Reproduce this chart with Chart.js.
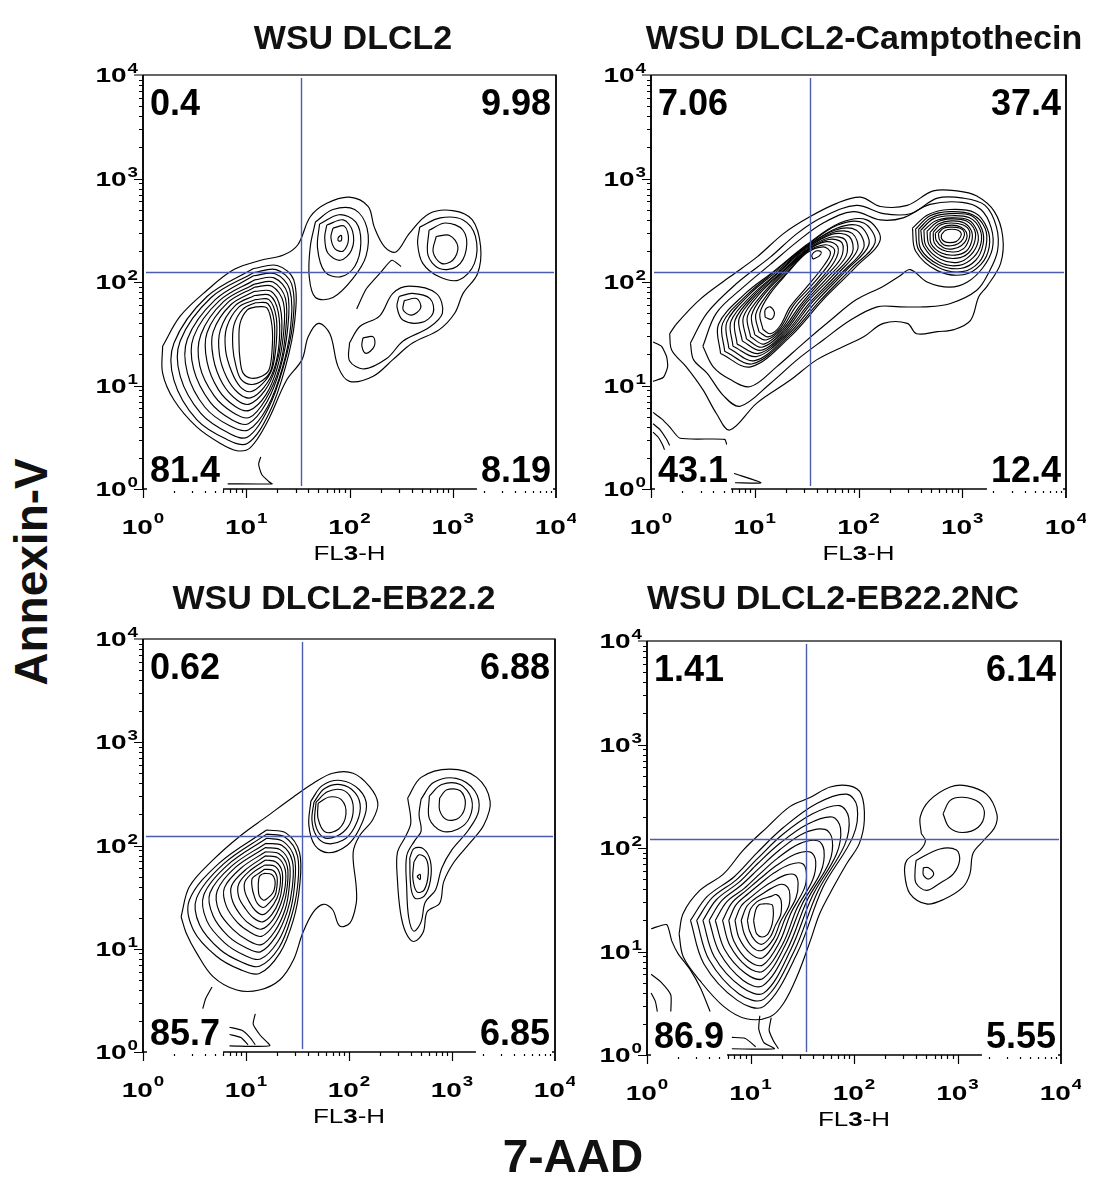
<!DOCTYPE html>
<html><head><meta charset="utf-8">
<script src="https://cdn.jsdelivr.net/npm/chart.js@4.4.1/dist/chart.umd.min.js"></script>
<style>
html,body{margin:0;padding:0;background:#fff}
body{width:1094px;height:1184px;position:relative;overflow:hidden;font-family:"Liberation Sans",Arial,sans-serif}
canvas{position:absolute}
.t{position:absolute;font-weight:bold;font-size:34px;line-height:34px;white-space:nowrap;transform:translateX(-50%);color:#111}
#ylab{position:absolute;left:31px;top:572px;font-weight:bold;font-size:46px;line-height:46px;white-space:nowrap;transform:translate(-50%,-50%) rotate(-90deg);color:#111}
#xlab{position:absolute;left:573px;top:1133px;font-weight:bold;font-size:46px;line-height:46px;white-space:nowrap;transform:translateX(-50%);color:#111}
</style></head><body>
<canvas id="c0"></canvas><canvas id="c1"></canvas><canvas id="c2"></canvas><canvas id="c3"></canvas>
<div class="t" id="t0"></div><div class="t" id="t1"></div><div class="t" id="t2"></div><div class="t" id="t3"></div>
<div id="ylab">Annexin-V</div>
<div id="xlab">7-AAD</div>
<script>
// ---------- text / labels ----------
const titles = ['WSU DLCL2', 'WSU DLCL2-Camptothecin', 'WSU DLCL2-EB22.2', 'WSU DLCL2-EB22.2NC'];
const quadUL = ['0.4', '7.06', '0.62', '1.41'];
const quadUR = ['9.98', '37.4', '6.88', '6.14'];
const quadLL = ['81.4', '43.1', '85.7', '86.9'];
const quadLR = ['8.19', '12.4', '6.85', '5.55'];
const decades = [0, 1, 2, 3, 4];          // tick labels 10^n
const quadX = [34, 34, 35, 34];          // vertical gate (FL3-H)
const quadY = [125, 125, 124, 123];      // horizontal gate (Annexin-V)

// ---------- contour data: [log10(FL3-H), log10(Annexin-V), ...] ----------
// Panel 1: WSU DLCL2
const p1Outer = [0.19,1.38, 0.36,1.67, 0.62,1.92, 0.88,2.12, 1.14,2.21, 1.36,2.26, 1.50,2.36, 1.62,2.63, 1.78,2.76, 2.00,2.82, 2.18,2.73, 2.24,2.53, 2.34,2.34, 2.45,2.29, 2.58,2.47, 2.77,2.66, 3.00,2.69, 3.19,2.60, 3.27,2.34, 3.24,2.08, 3.10,1.89, 3.02,1.70, 2.87,1.54, 2.61,1.41, 2.42,1.25, 2.23,1.09, 2.00,1.04, 1.89,1.18, 1.81,1.50, 1.70,1.60, 1.60,1.47, 1.54,1.25, 1.39,1.05, 1.20,0.64, 1.04,0.40, 0.91,0.37, 0.75,0.44, 0.52,0.60, 0.30,0.86, 0.19,1.12];
const p1Main = [
 [1.07,2.13, 1.30,2.16, 1.46,2.02, 1.47,1.63, 1.38,1.18, 1.22,0.73, 1.01,0.44, 0.81,0.48, 0.52,0.67, 0.30,1.05, 0.30,1.41, 0.62,1.86],
 [1.07,2.09, 1.29,2.12, 1.44,1.98, 1.45,1.60, 1.36,1.18, 1.21,0.77, 1.01,0.50, 0.83,0.54, 0.56,0.73, 0.36,1.09, 0.36,1.43, 0.66,1.85],
 [1.07,2.06, 1.28,2.08, 1.42,1.93, 1.43,1.57, 1.35,1.17, 1.21,0.80, 1.02,0.57, 0.84,0.61, 0.60,0.79, 0.43,1.12, 0.43,1.45, 0.70,1.83],
 [1.08,2.02, 1.27,2.04, 1.40,1.89, 1.40,1.54, 1.33,1.17, 1.20,0.84, 1.02,0.63, 0.86,0.67, 0.65,0.84, 0.49,1.16, 0.49,1.47, 0.74,1.82],
 [1.08,1.98, 1.26,2.00, 1.38,1.84, 1.38,1.51, 1.32,1.17, 1.19,0.87, 1.03,0.69, 0.87,0.74, 0.69,0.90, 0.55,1.19, 0.56,1.49, 0.78,1.81],
 [1.08,1.95, 1.25,1.96, 1.36,1.80, 1.36,1.49, 1.30,1.17, 1.19,0.91, 1.03,0.76, 0.89,0.80, 0.73,0.96, 0.62,1.23, 0.62,1.51, 0.82,1.80],
 [1.08,1.91, 1.24,1.91, 1.33,1.75, 1.34,1.46, 1.28,1.16, 1.18,0.95, 1.03,0.82, 0.91,0.86, 0.77,1.02, 0.68,1.27, 0.68,1.52, 0.85,1.78],
 [1.08,1.87, 1.23,1.87, 1.31,1.71, 1.32,1.43, 1.27,1.16, 1.17,0.98, 1.04,0.88, 0.92,0.93, 0.81,1.08, 0.74,1.30, 0.75,1.54, 0.89,1.77],
 [1.09,1.83, 1.22,1.83, 1.29,1.66, 1.29,1.40, 1.25,1.16, 1.16,1.02, 1.04,0.94, 0.94,0.99, 0.86,1.13, 0.80,1.34, 0.81,1.56, 0.93,1.76],
 [1.09,1.80, 1.21,1.79, 1.27,1.62, 1.27,1.37, 1.24,1.15, 1.16,1.05, 1.05,1.01, 0.95,1.06, 0.90,1.19, 0.87,1.37, 0.88,1.58, 0.97,1.74],
 [1.09,1.76, 1.20,1.75, 1.25,1.57, 1.25,1.34, 1.22,1.15, 1.15,1.09, 1.05,1.07, 0.97,1.12, 0.94,1.25, 0.93,1.41, 0.94,1.60, 1.01,1.73]
];
const p1Upper = [
 [1.67,2.58, 1.84,2.70, 2.05,2.70, 2.17,2.52, 2.16,2.25, 2.03,2.03, 1.84,1.85, 1.67,1.85, 1.61,2.05, 1.62,2.34],
 [1.71,2.56, 1.90,2.65, 2.06,2.58, 2.11,2.38, 2.05,2.15, 1.91,2.05, 1.76,2.10, 1.69,2.33],
 [1.78,2.55, 1.94,2.60, 2.03,2.49, 2.02,2.31, 1.91,2.21, 1.79,2.28, 1.76,2.43],
 [1.84,2.52, 1.95,2.54, 1.99,2.41, 1.94,2.30, 1.86,2.32, 1.82,2.43],
 [1.89,2.43, 1.92,2.45, 1.92,2.40, 1.89,2.40]
];
const p1Right = [
 [2.68,2.53, 2.88,2.62, 3.10,2.60, 3.22,2.44, 3.21,2.18, 3.06,2.02, 2.87,2.05, 2.71,2.18, 2.66,2.37],
 [2.77,2.50, 2.93,2.57, 3.10,2.50, 3.13,2.31, 3.04,2.15, 2.87,2.13, 2.76,2.26],
 [2.84,2.44, 2.97,2.45, 3.05,2.34, 3.00,2.21, 2.89,2.18, 2.81,2.29]
];
const p1Mid = [
 [2.00,1.41, 2.10,1.57, 2.29,1.67, 2.42,1.89, 2.58,1.96, 2.84,1.89, 2.90,1.70, 2.77,1.56, 2.52,1.43, 2.36,1.26, 2.14,1.16, 2.00,1.24],
 [2.48,1.86, 2.61,1.89, 2.78,1.84, 2.81,1.70, 2.70,1.61, 2.52,1.63, 2.46,1.76],
 [2.53,1.82, 2.65,1.84, 2.69,1.75, 2.60,1.68, 2.52,1.73],
 [2.13,1.46, 2.23,1.47, 2.24,1.38, 2.16,1.31, 2.12,1.38]
];
const p1Open = [
 [2.07,1.74, 2.16,1.93, 2.30,2.09, 2.41,2.21, 2.50,2.15],
 [1.14,0.31, 1.12,0.24, 1.15,0.14, 1.22,0.07, 1.25,0.05, 0.82,0.05]
];

// Panel 2: WSU DLCL2-Camptothecin
const p2Outer = [0.18,1.50, 0.25,1.60, 0.47,1.83, 0.76,2.05, 1.02,2.24, 1.28,2.47, 1.53,2.63, 1.79,2.76, 2.02,2.82, 2.21,2.73, 2.47,2.74, 2.72,2.88, 2.95,2.88, 3.14,2.83, 3.31,2.68, 3.39,2.44, 3.37,2.18, 3.24,1.96, 3.16,1.86, 3.08,1.63, 2.92,1.54, 2.76,1.52, 2.56,1.50, 2.47,1.60, 2.24,1.60, 2.05,1.47, 1.86,1.38, 1.60,1.25, 1.34,1.05, 1.02,0.83, 0.76,0.57, 0.63,0.73, 0.50,0.96, 0.34,1.18, 0.20,1.34];
const p2Band = [
 [0.38,1.41, 0.54,1.70, 0.83,1.99, 1.15,2.24, 1.41,2.47, 1.66,2.63, 1.98,2.74, 2.24,2.66, 2.50,2.66, 2.76,2.81, 3.01,2.81, 3.22,2.74, 3.33,2.53, 3.34,2.30, 3.26,2.10, 3.14,1.92, 2.88,1.79, 2.63,1.76, 2.40,1.76, 2.18,1.76, 1.92,1.63, 1.66,1.44, 1.41,1.25, 1.15,1.02, 0.86,0.80, 0.70,0.90, 0.54,1.12, 0.41,1.25],
 [0.50,1.38, 0.63,1.70, 0.89,1.95, 1.15,2.17, 1.41,2.39, 1.66,2.57, 1.95,2.68, 2.21,2.60, 2.43,2.62, 2.69,2.75, 3.00,2.77, 3.18,2.70, 3.28,2.52, 3.29,2.32, 3.20,2.14, 3.05,2.00, 2.88,1.95, 2.66,2.00, 2.50,2.12, 2.40,2.06, 2.24,1.96, 1.98,1.83, 1.73,1.63, 1.47,1.41, 1.21,1.18, 0.96,0.99, 0.76,1.06, 0.60,1.18]
];
const p2Left = [
 [0.67,1.31, 0.65,1.59, 0.90,1.88, 1.18,2.10, 1.50,2.36, 1.82,2.57, 2.08,2.60, 2.21,2.41, 1.98,2.15, 1.66,1.83, 1.34,1.47, 0.96,1.18],
 [0.71,1.33, 0.69,1.60, 0.93,1.88, 1.19,2.10, 1.50,2.35, 1.80,2.55, 2.05,2.57, 2.16,2.38, 1.93,2.13, 1.63,1.82, 1.33,1.48, 0.98,1.21],
 [0.75,1.36, 0.73,1.61, 0.95,1.88, 1.21,2.10, 1.50,2.34, 1.79,2.52, 2.01,2.54, 2.10,2.36, 1.88,2.11, 1.60,1.82, 1.32,1.49, 1.00,1.24],
 [0.79,1.38, 0.77,1.62, 0.98,1.88, 1.22,2.09, 1.50,2.34, 1.77,2.50, 1.98,2.50, 2.05,2.33, 1.84,2.09, 1.56,1.81, 1.31,1.50, 1.02,1.28],
 [0.83,1.40, 0.81,1.63, 1.00,1.88, 1.23,2.09, 1.50,2.33, 1.76,2.48, 1.94,2.47, 1.99,2.31, 1.79,2.07, 1.53,1.80, 1.30,1.51, 1.04,1.31],
 [0.88,1.43, 0.85,1.65, 1.03,1.89, 1.25,2.09, 1.50,2.32, 1.74,2.46, 1.91,2.44, 1.94,2.28, 1.74,2.05, 1.50,1.80, 1.29,1.52, 1.06,1.34],
 [0.92,1.45, 0.89,1.66, 1.05,1.89, 1.26,2.09, 1.50,2.31, 1.72,2.43, 1.87,2.41, 1.88,2.25, 1.69,2.03, 1.47,1.79, 1.28,1.53, 1.07,1.37],
 [0.96,1.47, 0.93,1.67, 1.08,1.89, 1.27,2.09, 1.50,2.30, 1.71,2.41, 1.84,2.38, 1.83,2.23, 1.64,2.01, 1.44,1.78, 1.27,1.54, 1.09,1.40],
 [1.00,1.49, 0.97,1.68, 1.10,1.89, 1.28,2.08, 1.50,2.30, 1.69,2.39, 1.80,2.34, 1.77,2.20, 1.60,1.99, 1.40,1.77, 1.26,1.55, 1.11,1.44],
 [1.04,1.52, 1.01,1.69, 1.13,1.89, 1.30,2.08, 1.50,2.29, 1.68,2.36, 1.77,2.31, 1.72,2.18, 1.55,1.97, 1.37,1.77, 1.25,1.56, 1.13,1.47],
 [1.08,1.54, 1.05,1.70, 1.15,1.89, 1.31,2.08, 1.50,2.28, 1.66,2.34, 1.73,2.28, 1.66,2.15, 1.50,1.95, 1.34,1.76, 1.24,1.57, 1.15,1.50]
];
const p2Peaks = [
 [1.10,1.66, 1.16,1.64, 1.19,1.70, 1.15,1.76, 1.10,1.73],
 [1.56,2.22, 1.62,2.25, 1.64,2.29, 1.59,2.30, 1.55,2.26]
];
const p2Right = [
 [2.52,2.52, 2.67,2.65, 2.88,2.70, 3.12,2.67, 3.24,2.52, 3.26,2.34, 3.18,2.17, 3.01,2.07, 2.76,2.11, 2.55,2.30],
 [2.55,2.51, 2.69,2.64, 2.88,2.68, 3.10,2.65, 3.22,2.52, 3.23,2.35, 3.16,2.19, 3.00,2.10, 2.77,2.14, 2.58,2.31],
 [2.58,2.51, 2.70,2.62, 2.88,2.66, 3.09,2.64, 3.19,2.51, 3.20,2.36, 3.13,2.21, 2.98,2.13, 2.77,2.17, 2.60,2.32],
 [2.60,2.50, 2.72,2.61, 2.89,2.64, 3.07,2.62, 3.17,2.51, 3.18,2.37, 3.11,2.24, 2.97,2.16, 2.78,2.19, 2.63,2.34],
 [2.63,2.50, 2.74,2.59, 2.89,2.62, 3.06,2.60, 3.14,2.50, 3.15,2.38, 3.08,2.26, 2.96,2.19, 2.79,2.22, 2.65,2.35],
 [2.66,2.49, 2.76,2.58, 2.89,2.61, 3.04,2.59, 3.12,2.50, 3.12,2.39, 3.06,2.28, 2.95,2.23, 2.80,2.25, 2.68,2.36],
 [2.69,2.48, 2.77,2.56, 2.89,2.59, 3.02,2.57, 3.09,2.49, 3.09,2.39, 3.04,2.30, 2.93,2.26, 2.80,2.28, 2.70,2.37],
 [2.72,2.48, 2.79,2.55, 2.89,2.57, 3.01,2.55, 3.07,2.49, 3.06,2.40, 3.01,2.32, 2.92,2.29, 2.81,2.31, 2.73,2.38],
 [2.74,2.47, 2.81,2.53, 2.90,2.55, 2.99,2.53, 3.04,2.48, 3.04,2.41, 2.99,2.35, 2.91,2.32, 2.82,2.33, 2.75,2.40],
 [2.77,2.47, 2.82,2.52, 2.90,2.53, 2.98,2.52, 3.02,2.48, 3.01,2.42, 2.96,2.37, 2.89,2.35, 2.82,2.36, 2.78,2.41],
 [2.80,2.46, 2.84,2.50, 2.90,2.51, 2.96,2.50, 2.99,2.47, 2.98,2.43, 2.94,2.39, 2.88,2.38, 2.83,2.39, 2.80,2.42]
];
const p2Open = [
 [0.02,1.42, 0.10,1.38, 0.15,1.28, 0.16,1.18, 0.12,1.08, 0.02,1.04],
 [0.02,0.74, 0.10,0.68, 0.18,0.60, 0.28,0.49, 0.71,0.48, 0.73,0.43],
 [0.02,0.63, 0.09,0.57, 0.15,0.48, 0.18,0.42],
 [0.02,0.55, 0.07,0.50, 0.11,0.43, 0.13,0.38],
 [0.80,0.15, 1.06,0.06, 0.81,0.06]
];

// Panel 3: WSU DLCL2-EB22.2
const p3Outer = [0.37,1.31, 0.45,1.60, 0.68,1.86, 0.94,2.09, 1.20,2.28, 1.46,2.47, 1.65,2.60, 1.84,2.70, 2.04,2.70, 2.20,2.57, 2.28,2.41, 2.23,2.25, 2.10,2.09, 2.04,1.93, 2.07,1.60, 2.07,1.44, 2.01,1.25, 1.91,1.22, 1.84,1.38, 1.75,1.43, 1.65,1.35, 1.55,1.15, 1.46,0.89, 1.33,0.70, 1.13,0.60, 0.91,0.60, 0.68,0.73, 0.52,0.96, 0.42,1.15];
const p3Upper = [
 [1.63,2.43, 1.74,2.58, 1.92,2.63, 2.10,2.54, 2.17,2.38, 2.10,2.16, 1.98,2.00, 1.80,1.93, 1.67,2.00, 1.61,2.20],
 [1.66,2.42, 1.76,2.55, 1.92,2.59, 2.06,2.51, 2.11,2.36, 2.05,2.17, 1.94,2.05, 1.78,2.02, 1.68,2.10, 1.64,2.25],
 [1.68,2.42, 1.79,2.52, 1.93,2.54, 2.02,2.46, 2.04,2.32, 1.99,2.18, 1.88,2.09, 1.75,2.08, 1.67,2.22],
 [1.70,2.41, 1.81,2.47, 1.93,2.44, 1.97,2.30, 1.90,2.16, 1.77,2.13, 1.70,2.26]
];
const p3Main = [
 [1.20,2.15, 1.39,2.12, 1.52,1.93, 1.52,1.60, 1.46,1.28, 1.33,0.96, 1.13,0.76, 0.94,0.80, 0.71,0.93, 0.49,1.18, 0.45,1.47, 0.74,1.83],
 [1.20,2.11, 1.38,2.08, 1.50,1.90, 1.50,1.60, 1.44,1.31, 1.32,1.01, 1.13,0.83, 0.96,0.87, 0.75,0.99, 0.55,1.23, 0.52,1.49, 0.78,1.82],
 [1.20,2.07, 1.36,2.04, 1.47,1.88, 1.47,1.60, 1.42,1.33, 1.31,1.07, 1.14,0.90, 0.98,0.94, 0.79,1.06, 0.62,1.27, 0.59,1.52, 0.82,1.81],
 [1.19,2.02, 1.35,2.00, 1.45,1.85, 1.45,1.60, 1.40,1.36, 1.29,1.12, 1.14,0.97, 1.00,1.01, 0.83,1.12, 0.68,1.32, 0.65,1.54, 0.86,1.80],
 [1.19,1.98, 1.33,1.96, 1.42,1.83, 1.42,1.60, 1.38,1.38, 1.28,1.17, 1.15,1.04, 1.02,1.08, 0.87,1.19, 0.74,1.36, 0.72,1.56, 0.90,1.79],
 [1.19,1.94, 1.32,1.92, 1.40,1.80, 1.40,1.60, 1.36,1.41, 1.27,1.23, 1.15,1.12, 1.04,1.16, 0.92,1.25, 0.81,1.41, 0.79,1.59, 0.95,1.78],
 [1.19,1.90, 1.31,1.88, 1.38,1.77, 1.38,1.60, 1.34,1.44, 1.26,1.28, 1.15,1.19, 1.05,1.23, 0.96,1.31, 0.87,1.46, 0.86,1.61, 0.99,1.76],
 [1.19,1.86, 1.29,1.84, 1.35,1.75, 1.35,1.60, 1.32,1.46, 1.25,1.33, 1.16,1.26, 1.07,1.30, 1.00,1.38, 0.93,1.50, 0.93,1.63, 1.03,1.75],
 [1.18,1.81, 1.28,1.80, 1.33,1.72, 1.33,1.60, 1.30,1.49, 1.23,1.38, 1.16,1.33, 1.09,1.37, 1.04,1.44, 0.99,1.55, 0.99,1.65, 1.07,1.74],
 [1.18,1.77, 1.26,1.76, 1.30,1.70, 1.30,1.60, 1.28,1.51, 1.22,1.44, 1.17,1.40, 1.11,1.44, 1.08,1.51, 1.06,1.59, 1.06,1.68, 1.11,1.72],
 [1.18,1.73, 1.25,1.72, 1.28,1.67, 1.28,1.60, 1.26,1.54, 1.21,1.49, 1.17,1.47, 1.13,1.51, 1.12,1.57, 1.12,1.64, 1.13,1.70, 1.15,1.72]
];
const p3RightOuter = [
 [2.57,2.46, 2.70,2.66, 2.98,2.74, 3.24,2.66, 3.37,2.43, 3.31,2.20, 3.17,2.02, 3.02,1.84, 2.92,1.65, 2.88,1.44, 2.76,1.36, 2.72,1.16, 2.63,1.07, 2.55,1.16, 2.50,1.35, 2.47,1.67, 2.47,1.93, 2.55,2.09, 2.60,2.22],
 [2.70,2.45, 2.82,2.61, 3.04,2.65, 3.22,2.53, 3.26,2.34, 3.16,2.15, 3.00,1.96, 2.90,1.78, 2.84,1.57, 2.74,1.45, 2.70,1.26, 2.63,1.17, 2.58,1.30, 2.56,1.60, 2.56,1.90, 2.64,2.05, 2.70,2.14, 2.68,2.30]
];
const p3RightPeaks = [
 [2.78,2.48, 2.90,2.59, 3.08,2.59, 3.19,2.45, 3.17,2.27, 3.06,2.16, 2.90,2.14, 2.78,2.26],
 [2.88,2.46, 2.95,2.54, 3.08,2.53, 3.13,2.41, 3.07,2.27, 2.95,2.25, 2.88,2.34],
 [2.59,1.88, 2.63,1.97, 2.72,1.97, 2.79,1.85, 2.79,1.66, 2.73,1.51, 2.64,1.49, 2.60,1.60],
 [2.63,1.84, 2.68,1.91, 2.75,1.87, 2.77,1.73, 2.73,1.57, 2.66,1.55, 2.62,1.68],
 [2.66,1.70, 2.69,1.72, 2.69,1.67]
];
const p3Open = [
 [0.58,0.42, 0.61,0.52, 0.67,0.63],
 [1.09,0.37, 1.07,0.27, 1.14,0.16, 1.23,0.06, 0.84,0.06],
 [0.84,0.24, 0.96,0.21, 1.04,0.14, 1.09,0.07],
 [0.84,0.17, 0.95,0.14, 1.02,0.07],
 [0.05,0.24, 0.05,0.06]
];

// Panel 4: WSU DLCL2-EB22.2NC
const p4Outer = [0.31,1.17, 0.35,1.37, 0.51,1.59, 0.74,1.75, 0.93,1.98, 1.16,2.20, 1.38,2.40, 1.58,2.49, 1.77,2.59, 1.96,2.60, 2.07,2.52, 2.10,2.27, 2.05,2.04, 1.93,1.85, 1.80,1.62, 1.67,1.37, 1.58,1.11, 1.45,0.76, 1.32,0.50, 1.19,0.37, 0.96,0.35, 0.74,0.47, 0.51,0.72, 0.35,0.95];
const p4Main = [
 [0.42,1.30, 0.58,1.53, 0.84,1.72, 1.06,1.95, 1.32,2.20, 1.64,2.43, 1.93,2.52, 2.03,2.40, 1.99,2.11, 1.70,1.62, 1.45,0.98, 1.13,0.47, 0.87,0.53, 0.55,0.88],
 [0.48,1.30, 0.63,1.52, 0.86,1.69, 1.07,1.90, 1.31,2.13, 1.60,2.33, 1.86,2.41, 1.95,2.29, 1.91,2.03, 1.65,1.58, 1.42,1.00, 1.13,0.54, 0.89,0.59, 0.60,0.92],
 [0.54,1.30, 0.67,1.50, 0.89,1.67, 1.07,1.85, 1.29,2.05, 1.55,2.23, 1.79,2.30, 1.87,2.19, 1.83,1.94, 1.60,1.54, 1.39,1.02, 1.13,0.60, 0.91,0.66, 0.65,0.95],
 [0.60,1.30, 0.72,1.49, 0.91,1.64, 1.08,1.80, 1.28,1.98, 1.51,2.14, 1.72,2.18, 1.79,2.08, 1.76,1.86, 1.55,1.50, 1.36,1.03, 1.12,0.67, 0.93,0.72, 0.70,0.99],
 [0.66,1.30, 0.77,1.48, 0.94,1.61, 1.09,1.75, 1.26,1.90, 1.47,2.04, 1.65,2.07, 1.71,1.98, 1.68,1.77, 1.50,1.46, 1.33,1.05, 1.12,0.74, 0.95,0.79, 0.75,1.02],
 [0.73,1.30, 0.82,1.47, 0.96,1.59, 1.10,1.71, 1.25,1.83, 1.43,1.94, 1.58,1.96, 1.63,1.87, 1.60,1.69, 1.45,1.42, 1.31,1.07, 1.12,0.81, 0.97,0.85, 0.80,1.06],
 [0.79,1.30, 0.86,1.45, 0.98,1.56, 1.10,1.66, 1.23,1.76, 1.38,1.84, 1.50,1.85, 1.54,1.76, 1.52,1.61, 1.39,1.37, 1.28,1.09, 1.12,0.87, 0.98,0.91, 0.84,1.10],
 [0.85,1.30, 0.91,1.44, 1.01,1.53, 1.11,1.61, 1.22,1.68, 1.34,1.74, 1.43,1.74, 1.46,1.66, 1.44,1.52, 1.34,1.33, 1.25,1.11, 1.12,0.94, 1.00,0.98, 0.89,1.13],
 [0.91,1.30, 0.96,1.43, 1.03,1.50, 1.12,1.56, 1.20,1.61, 1.30,1.65, 1.36,1.62, 1.38,1.55, 1.37,1.44, 1.29,1.29, 1.22,1.12, 1.11,1.01, 1.02,1.04, 0.94,1.17],
 [0.97,1.30, 1.00,1.41, 1.06,1.48, 1.12,1.51, 1.19,1.53, 1.25,1.55, 1.29,1.51, 1.30,1.45, 1.29,1.35, 1.24,1.25, 1.19,1.14, 1.11,1.07, 1.04,1.11, 0.99,1.20],
 [1.03,1.30, 1.05,1.40, 1.08,1.45, 1.13,1.46, 1.17,1.46, 1.21,1.45, 1.22,1.40, 1.22,1.34, 1.21,1.27, 1.19,1.21, 1.16,1.16, 1.11,1.14, 1.06,1.17, 1.04,1.24]
];
const p4Right = [
 [2.65,2.14, 2.64,2.30, 2.73,2.46, 2.93,2.59, 3.09,2.60, 3.28,2.52, 3.38,2.33, 3.36,2.20, 3.25,2.07, 3.15,1.95, 3.12,1.75, 3.05,1.62, 2.86,1.50, 2.70,1.46, 2.54,1.56, 2.49,1.75, 2.51,1.88, 2.64,1.98, 2.69,2.07],
 [2.86,2.33, 2.93,2.46, 3.05,2.49, 3.21,2.44, 3.26,2.33, 3.20,2.20, 3.05,2.15, 2.92,2.20],
 [2.60,1.88, 2.83,1.99, 2.99,1.98, 3.02,1.88, 2.96,1.75, 2.83,1.66, 2.70,1.59, 2.60,1.66, 2.59,1.78],
 [2.67,1.81, 2.72,1.81, 2.77,1.75, 2.72,1.70, 2.67,1.74]
];
const p4Open = [
 [0.04,1.22, 0.19,1.26, 0.24,1.10, 0.30,0.98, 0.42,0.82, 0.52,0.64, 0.61,0.42],
 [0.04,0.78, 0.14,0.70, 0.23,0.58, 0.23,0.42],
 [0.04,0.60, 0.08,0.52, 0.10,0.42],
 [1.09,0.38, 1.08,0.25, 1.13,0.12, 1.23,0.06, 0.82,0.06],
 [1.20,0.36, 1.18,0.24, 1.22,0.14, 1.27,0.06],
 [0.82,0.17, 0.95,0.16, 1.05,0.08]
];

const panelClosed = [
  [p1Outer, ...p1Main, ...p1Upper, ...p1Right, ...p1Mid],
  [p2Outer, ...p2Band, ...p2Left, ...p2Peaks, ...p2Right],
  [p3Outer, ...p3Upper, ...p3Main, ...p3RightOuter, ...p3RightPeaks],
  [p4Outer, ...p4Main, ...p4Right]
];
const panelOpen = [p1Open, p2Open, p3Open, p4Open];

// ---------- layout (pixel geometry of each plot frame) ----------
const FRAMES = [
  {l:143, t:75,  r:556,  b:489,  tx:353, ty:20},
  {l:651, t:75,  r:1066, b:489,  tx:864, ty:20},
  {l:143, t:639, r:555,  b:1052, tx:334, ty:580},
  {l:647, t:641, r:1061, b:1055, tx:833, ty:580}
];
const PAD = {left:78, top:25, right:20, bottom:85};

function toPoints(flat, close){
  const a = [];
  for (let i = 0; i < flat.length; i += 2) a.push({x: Math.pow(10, flat[i]), y: Math.pow(10, flat[i+1])});
  if (close) a.push({x: a[0].x, y: a[0].y});
  return a;
}
function lineDs(flat, close){
  return {data: toPoints(flat, close), showLine: true, borderColor: '#000', borderWidth: 1.15,
          pointRadius: 0, tension: close ? 0.35 : 0.2, fill: false};
}

const SX = 1.4;
function wtext(ctx, txt, font, sx){ ctx.font = font; return ctx.measureText(txt).width * (sx || SX); }
function stext(ctx, txt, font, x, base, sx){
  ctx.save(); ctx.font = font; ctx.translate(x, base); ctx.scale(sx || SX, 1);
  ctx.textAlign = 'left'; ctx.textBaseline = 'alphabetic'; ctx.fillText(txt, 0, 0); ctx.restore();
}

const framePlugin = {
  id: 'frame',
  afterDatasetsDraw(chart){
    const i = chart.options.plugins.frame.idx;
    const ctx = chart.ctx, a = chart.chartArea, xs = chart.scales.x, ys = chart.scales.y;
    ctx.save();
    // gates
    ctx.strokeStyle = '#4a5db0'; ctx.lineWidth = 1.4;
    const qx = Math.round(xs.getPixelForValue(quadX[i])) + 0.5, qy = Math.round(ys.getPixelForValue(quadY[i])) + 0.5;
    ctx.beginPath();
    ctx.moveTo(qx, a.top + 3); ctx.lineTo(qx, a.bottom - 3);
    ctx.moveTo(a.left + 3, qy); ctx.lineTo(a.right - 2, qy);
    ctx.stroke();
    // frame
    ctx.strokeStyle = '#333'; ctx.lineWidth = 1.5;
    ctx.beginPath();
    ctx.moveTo(a.left, a.top); ctx.lineTo(a.right, a.top); ctx.lineTo(a.right, a.bottom);
    ctx.stroke();
    ctx.strokeStyle = '#000';
    ctx.beginPath();
    ctx.moveTo(a.left, a.top); ctx.lineTo(a.left, a.bottom); ctx.lineTo(a.right, a.bottom);
    ctx.stroke();
    // ticks
    ctx.lineWidth = 1.2;
    ctx.beginPath();
    for (let d = 0; d < 4; d++) {
      for (let k = 1; k < 10; k++) {
        const v = k * Math.pow(10, d), L = (k === 1) ? 9 : 4;
        const px = Math.round(xs.getPixelForValue(v)) + 0.5;
        ctx.moveTo(px, a.bottom); ctx.lineTo(px, a.bottom + L);
        const py = Math.round(ys.getPixelForValue(v)) + 0.5;
        ctx.moveTo(a.left - L, py); ctx.lineTo(a.left, py);
      }
    }
    ctx.moveTo(a.right, a.bottom); ctx.lineTo(a.right, a.bottom + 9);
    ctx.moveTo(a.left - 9, a.top); ctx.lineTo(a.left, a.top);
    ctx.stroke();
    // tick labels
    ctx.fillStyle = '#000';
    const F10 = 'bold 20px "Liberation Sans", Arial, sans-serif';
    const FE = 'bold 15px "Liberation Sans", Arial, sans-serif';
    decades.forEach(n => {
      const v = Math.pow(10, n), e = String(n);
      const w10 = wtext(ctx, '10', F10), we = wtext(ctx, e, FE, 1.25);
      const py = ys.getPixelForValue(v);
      const xe = a.left - 5 - we;
      stext(ctx, '10', F10, xe - 1 - w10, py + 7);
      stext(ctx, e, FE, xe, py - 2, 1.25);
      const px = xs.getPixelForValue(v);
      const x0 = px - (w10 + 1 + we) / 2;
      stext(ctx, '10', F10, x0, a.bottom + 45);
      stext(ctx, e, FE, x0 + w10 + 1, a.bottom + 34, 1.25);
    });
    // axis name FL3-H
    const FN = '20px "Liberation Sans", Arial, sans-serif', FB = 'bold 20px "Liberation Sans", Arial, sans-serif';
    const parts = [['FL', FN], ['3', FB], ['-H', FN]];
    const tw = parts.reduce((s, p) => s + wtext(ctx, p[0], p[1], 1.3), 0);
    let cx = (a.left + a.right) / 2 - tw / 2;
    parts.forEach(p => { stext(ctx, p[0], p[1], cx, a.bottom + 71, 1.3); cx += wtext(ctx, p[0], p[1], 1.3); });
    // quadrant percentages
    ctx.font = 'bold 36px "Liberation Sans", Arial, sans-serif';
    ctx.textBaseline = 'alphabetic';
    const top = a.top + 40, bot = a.bottom - 7;
    const wLL = ctx.measureText(quadLL[i]).width, wLR = ctx.measureText(quadLR[i]).width;
    ctx.fillStyle = '#fff';
    ctx.fillRect(a.left + 4, bot - 28, wLL + 6, a.bottom + 2 - (bot - 28));
    ctx.fillRect(a.right - 6 - wLR - 3, bot - 28, wLR + 6, a.bottom + 2 - (bot - 28));
    ctx.fillStyle = '#000';
    ctx.textAlign = 'left';
    ctx.fillText(quadUL[i], a.left + 7, top);
    ctx.fillText(quadLL[i], a.left + 7, bot);
    ctx.textAlign = 'right';
    ctx.fillText(quadUR[i], a.right - 5, top);
    ctx.fillText(quadLR[i], a.right - 5, bot);
    // redraw side lines over label boxes
    ctx.strokeStyle = '#000'; ctx.lineWidth = 1.5;
    ctx.beginPath();
    ctx.moveTo(a.left, a.top); ctx.lineTo(a.left, a.bottom + 1);
    ctx.moveTo(a.right, a.top); ctx.lineTo(a.right, a.bottom + 9);
    ctx.stroke();
    ctx.restore();
  }
};

FRAMES.forEach((f, i) => {
  const cv = document.getElementById('c' + i);
  const w = (f.r - f.l) + PAD.left + PAD.right, h = (f.b - f.t) + PAD.top + PAD.bottom;
  cv.width = w; cv.height = h;
  cv.style.left = (f.l - PAD.left) + 'px'; cv.style.top = (f.t - PAD.top) + 'px';
  cv.style.width = w + 'px'; cv.style.height = h + 'px';
  const tEl = document.getElementById('t' + i);
  tEl.textContent = titles[i]; tEl.style.left = f.tx + 'px'; tEl.style.top = f.ty + 'px';
  const datasets = panelClosed[i].map(r => lineDs(r, true)).concat(panelOpen[i].map(r => lineDs(r, false)));
  new Chart(cv, {
    type: 'scatter',
    data: {datasets},
    options: {
      animation: false, responsive: false, devicePixelRatio: 1,
      layout: {padding: PAD},
      plugins: {legend: {display: false}, tooltip: {enabled: false}, frame: {idx: i}},
      scales: {
        x: {type: 'logarithmic', min: 1, max: 10000, display: false},
        y: {type: 'logarithmic', min: 1, max: 10000, display: false}
      }
    },
    plugins: [framePlugin]
  });
});
</script>
</body></html>
